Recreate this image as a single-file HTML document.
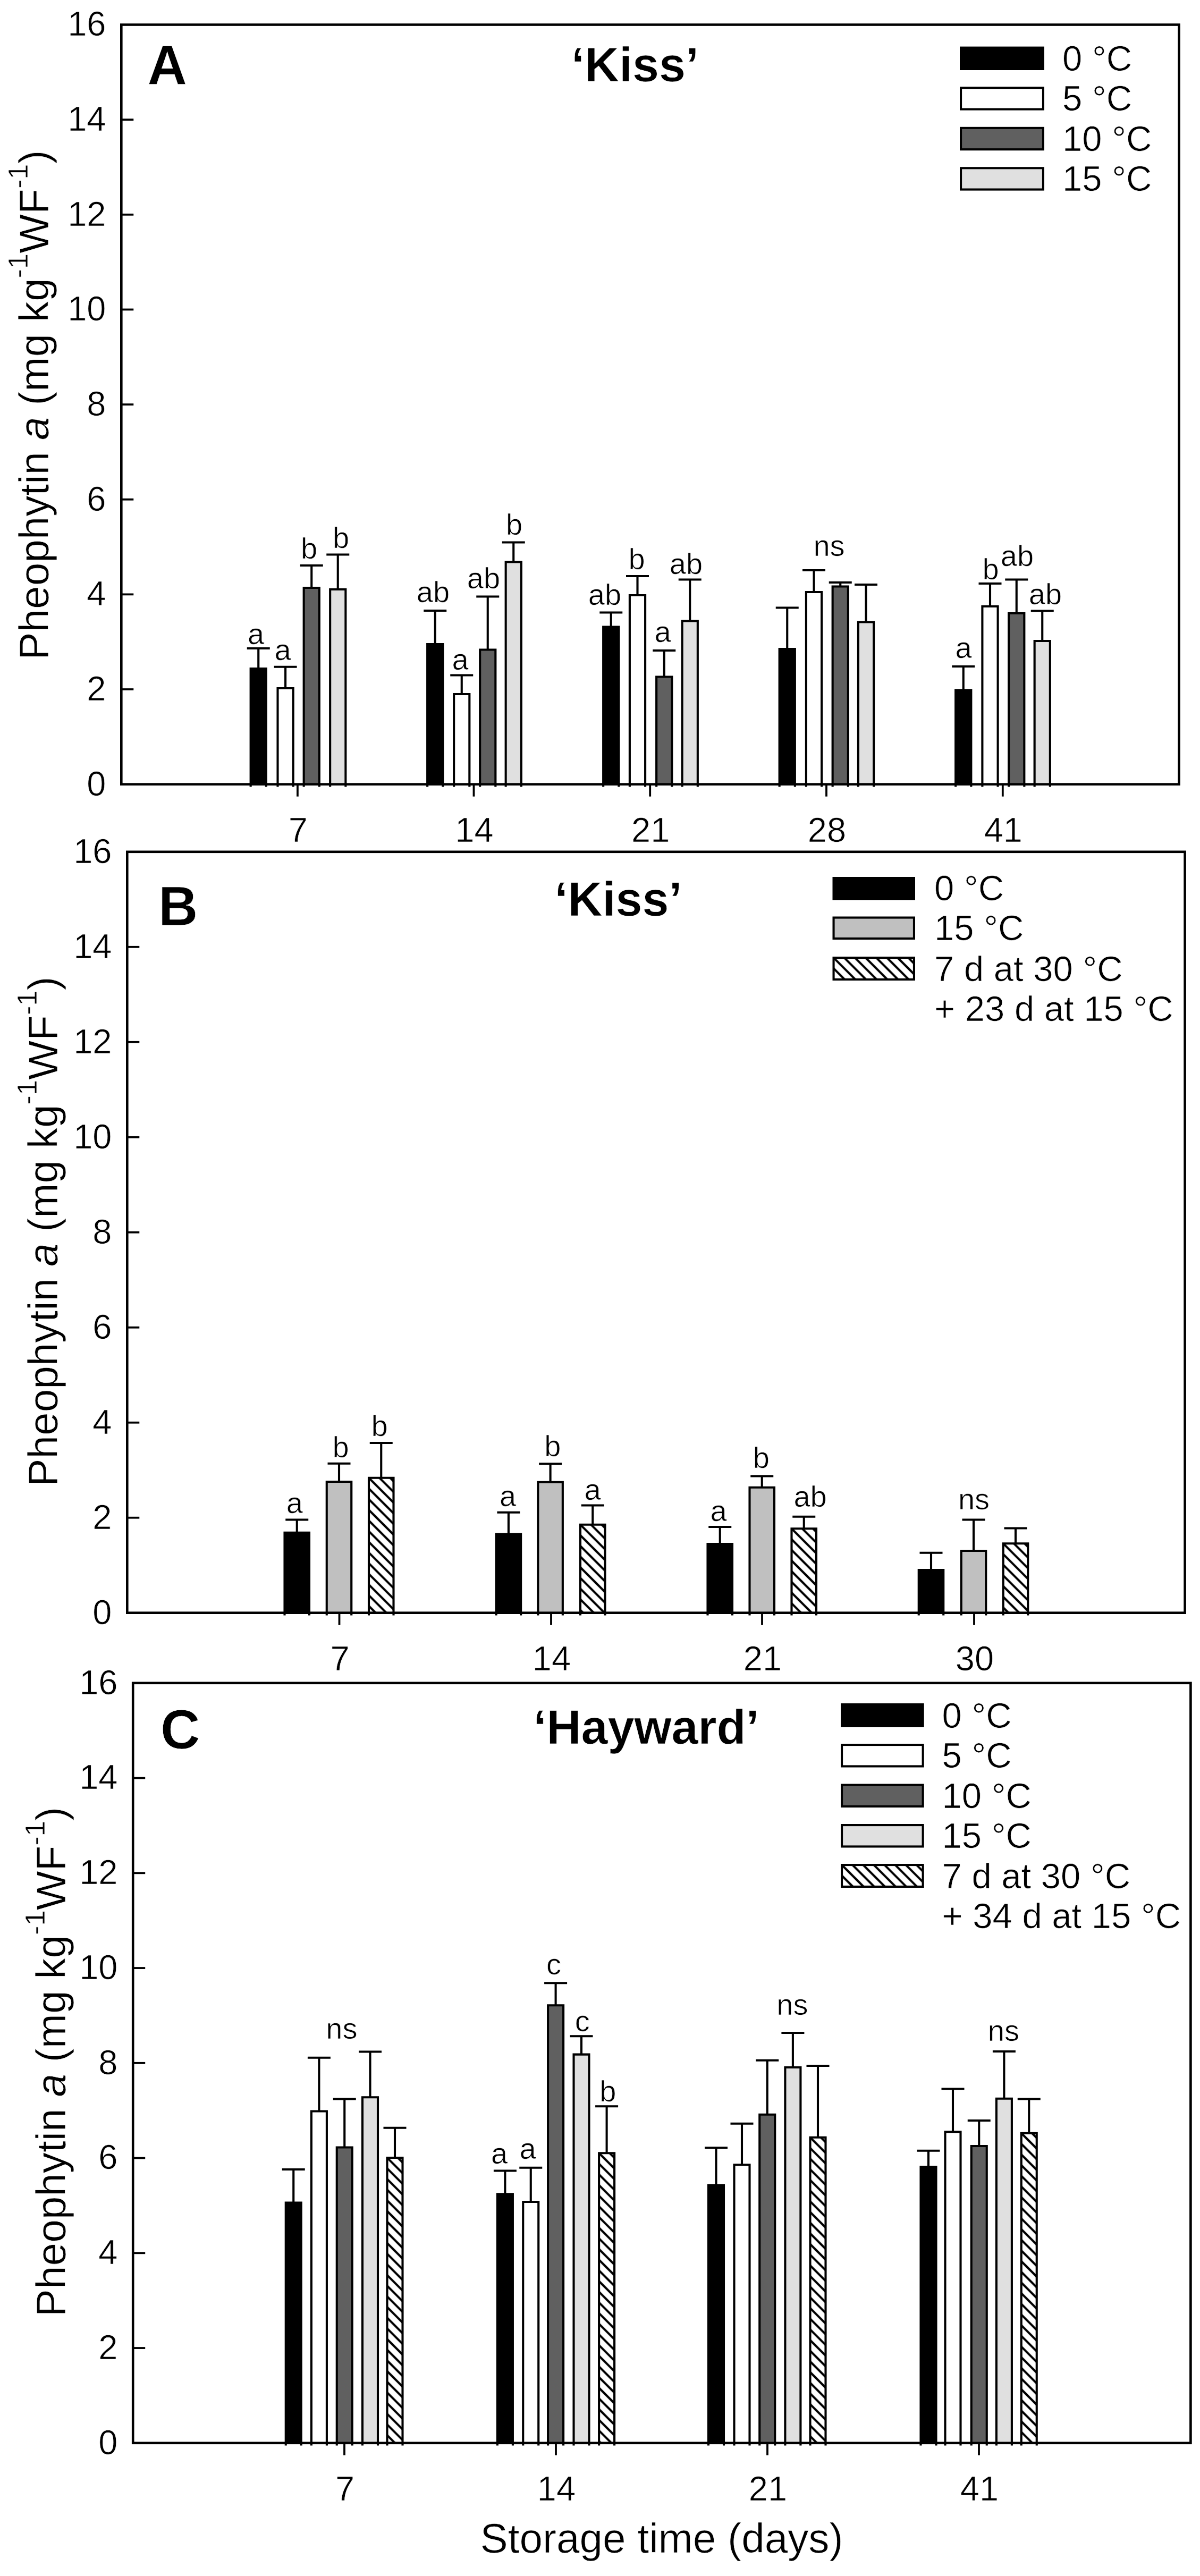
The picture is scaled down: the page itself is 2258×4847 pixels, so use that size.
<!DOCTYPE html>
<html lang="en"><head><meta charset="utf-8"><title>Pheophytin a during storage</title>
<style>html,body{margin:0;padding:0;background:#fff}svg{display:block}text{font-family:'Liberation Sans', sans-serif;fill:#000;stroke:#fff;stroke-width:0.7px}</style></head><body>
<svg width="2258" height="4847" viewBox="0 0 2258 4847" role="img" aria-label="Pheophytin a content of kiwifruit during storage">
<defs><pattern id="hatch" patternUnits="userSpaceOnUse" width="14.2" height="14.2" patternTransform="rotate(-45)"><rect x="-2.05" y="0" width="4.1" height="14.2" fill="#000"/><rect x="12.15" y="0" width="4.1" height="14.2" fill="#000"/></pattern></defs>
<rect x="0" y="0" width="2258" height="4847" fill="#fff"/>
<line x1="486.25" y1="1258.1" x2="486.25" y2="1220" stroke="#000" stroke-width="4.1"/>
<line x1="464.75" y1="1220" x2="507.75" y2="1220" stroke="#000" stroke-width="4.1"/>
<rect x="471.65" y="1258.1" width="29.2" height="217.6" fill="#000000"/>
<path d="M471.65,1480.5V1258.1H500.85V1480.5" fill="none" stroke="#000" stroke-width="4.1"/>
<line x1="537.1" y1="1295" x2="537.1" y2="1254.75" stroke="#000" stroke-width="4.1"/>
<line x1="515.6" y1="1254.75" x2="558.6" y2="1254.75" stroke="#000" stroke-width="4.1"/>
<rect x="522.5" y="1295" width="29.2" height="180.7" fill="#ffffff"/>
<path d="M522.5,1480.5V1295H551.7V1480.5" fill="none" stroke="#000" stroke-width="4.1"/>
<line x1="586.25" y1="1106" x2="586.25" y2="1064" stroke="#000" stroke-width="4.1"/>
<line x1="564.75" y1="1064" x2="607.75" y2="1064" stroke="#000" stroke-width="4.1"/>
<rect x="571.65" y="1106" width="29.2" height="369.7" fill="#606060"/>
<path d="M571.65,1480.5V1106H600.85V1480.5" fill="none" stroke="#000" stroke-width="4.1"/>
<line x1="635.75" y1="1109" x2="635.75" y2="1043.5" stroke="#000" stroke-width="4.1"/>
<line x1="614.25" y1="1043.5" x2="657.25" y2="1043.5" stroke="#000" stroke-width="4.1"/>
<rect x="621.15" y="1109" width="29.2" height="366.7" fill="#e0e0e0"/>
<path d="M621.15,1480.5V1109H650.35V1480.5" fill="none" stroke="#000" stroke-width="4.1"/>
<line x1="818.75" y1="1212.1" x2="818.75" y2="1149" stroke="#000" stroke-width="4.1"/>
<line x1="797.25" y1="1149" x2="840.25" y2="1149" stroke="#000" stroke-width="4.1"/>
<rect x="804.15" y="1212.1" width="29.2" height="263.6" fill="#000000"/>
<path d="M804.15,1480.5V1212.1H833.35V1480.5" fill="none" stroke="#000" stroke-width="4.1"/>
<line x1="868.75" y1="1306" x2="868.75" y2="1270.5" stroke="#000" stroke-width="4.1"/>
<line x1="847.25" y1="1270.5" x2="890.25" y2="1270.5" stroke="#000" stroke-width="4.1"/>
<rect x="854.15" y="1306" width="29.2" height="169.7" fill="#ffffff"/>
<path d="M854.15,1480.5V1306H883.35V1480.5" fill="none" stroke="#000" stroke-width="4.1"/>
<line x1="917.75" y1="1222.5" x2="917.75" y2="1122.5" stroke="#000" stroke-width="4.1"/>
<line x1="896.25" y1="1122.5" x2="939.25" y2="1122.5" stroke="#000" stroke-width="4.1"/>
<rect x="903.15" y="1222.5" width="29.2" height="253.2" fill="#606060"/>
<path d="M903.15,1480.5V1222.5H932.35V1480.5" fill="none" stroke="#000" stroke-width="4.1"/>
<line x1="966.25" y1="1057.5" x2="966.25" y2="1020.5" stroke="#000" stroke-width="4.1"/>
<line x1="944.75" y1="1020.5" x2="987.75" y2="1020.5" stroke="#000" stroke-width="4.1"/>
<rect x="951.65" y="1057.5" width="29.2" height="418.2" fill="#e0e0e0"/>
<path d="M951.65,1480.5V1057.5H980.85V1480.5" fill="none" stroke="#000" stroke-width="4.1"/>
<line x1="1149.75" y1="1179.6" x2="1149.75" y2="1152.5" stroke="#000" stroke-width="4.1"/>
<line x1="1128.25" y1="1152.5" x2="1171.25" y2="1152.5" stroke="#000" stroke-width="4.1"/>
<rect x="1135.15" y="1179.6" width="29.2" height="296.1" fill="#000000"/>
<path d="M1135.15,1480.5V1179.6H1164.35V1480.5" fill="none" stroke="#000" stroke-width="4.1"/>
<line x1="1199.5" y1="1120" x2="1199.5" y2="1084" stroke="#000" stroke-width="4.1"/>
<line x1="1178" y1="1084" x2="1221" y2="1084" stroke="#000" stroke-width="4.1"/>
<rect x="1184.9" y="1120" width="29.2" height="355.7" fill="#ffffff"/>
<path d="M1184.9,1480.5V1120H1214.1V1480.5" fill="none" stroke="#000" stroke-width="4.1"/>
<line x1="1249.75" y1="1273.5" x2="1249.75" y2="1224" stroke="#000" stroke-width="4.1"/>
<line x1="1228.25" y1="1224" x2="1271.25" y2="1224" stroke="#000" stroke-width="4.1"/>
<rect x="1235.15" y="1273.5" width="29.2" height="202.2" fill="#606060"/>
<path d="M1235.15,1480.5V1273.5H1264.35V1480.5" fill="none" stroke="#000" stroke-width="4.1"/>
<line x1="1298.25" y1="1168.5" x2="1298.25" y2="1090.5" stroke="#000" stroke-width="4.1"/>
<line x1="1276.75" y1="1090.5" x2="1319.75" y2="1090.5" stroke="#000" stroke-width="4.1"/>
<rect x="1283.65" y="1168.5" width="29.2" height="307.2" fill="#e0e0e0"/>
<path d="M1283.65,1480.5V1168.5H1312.85V1480.5" fill="none" stroke="#000" stroke-width="4.1"/>
<line x1="1481.25" y1="1221.1" x2="1481.25" y2="1143.5" stroke="#000" stroke-width="4.1"/>
<line x1="1459.75" y1="1143.5" x2="1502.75" y2="1143.5" stroke="#000" stroke-width="4.1"/>
<rect x="1466.65" y="1221.1" width="29.2" height="254.6" fill="#000000"/>
<path d="M1466.65,1480.5V1221.1H1495.85V1480.5" fill="none" stroke="#000" stroke-width="4.1"/>
<line x1="1531.5" y1="1114" x2="1531.5" y2="1073" stroke="#000" stroke-width="4.1"/>
<line x1="1510" y1="1073" x2="1553" y2="1073" stroke="#000" stroke-width="4.1"/>
<rect x="1516.9" y="1114" width="29.2" height="361.7" fill="#ffffff"/>
<path d="M1516.9,1480.5V1114H1546.1V1480.5" fill="none" stroke="#000" stroke-width="4.1"/>
<line x1="1581.25" y1="1103.5" x2="1581.25" y2="1096" stroke="#000" stroke-width="4.1"/>
<line x1="1559.75" y1="1096" x2="1602.75" y2="1096" stroke="#000" stroke-width="4.1"/>
<rect x="1566.65" y="1103.5" width="29.2" height="372.2" fill="#606060"/>
<path d="M1566.65,1480.5V1103.5H1595.85V1480.5" fill="none" stroke="#000" stroke-width="4.1"/>
<line x1="1629.5" y1="1170.5" x2="1629.5" y2="1100" stroke="#000" stroke-width="4.1"/>
<line x1="1608" y1="1100" x2="1651" y2="1100" stroke="#000" stroke-width="4.1"/>
<rect x="1614.9" y="1170.5" width="29.2" height="305.2" fill="#e0e0e0"/>
<path d="M1614.9,1480.5V1170.5H1644.1V1480.5" fill="none" stroke="#000" stroke-width="4.1"/>
<line x1="1812.75" y1="1298.6" x2="1812.75" y2="1254" stroke="#000" stroke-width="4.1"/>
<line x1="1791.25" y1="1254" x2="1834.25" y2="1254" stroke="#000" stroke-width="4.1"/>
<rect x="1798.15" y="1298.6" width="29.2" height="177.1" fill="#000000"/>
<path d="M1798.15,1480.5V1298.6H1827.35V1480.5" fill="none" stroke="#000" stroke-width="4.1"/>
<line x1="1863" y1="1141" x2="1863" y2="1098" stroke="#000" stroke-width="4.1"/>
<line x1="1841.5" y1="1098" x2="1884.5" y2="1098" stroke="#000" stroke-width="4.1"/>
<rect x="1848.4" y="1141" width="29.2" height="334.7" fill="#ffffff"/>
<path d="M1848.4,1480.5V1141H1877.6V1480.5" fill="none" stroke="#000" stroke-width="4.1"/>
<line x1="1912.75" y1="1154" x2="1912.75" y2="1090.5" stroke="#000" stroke-width="4.1"/>
<line x1="1891.25" y1="1090.5" x2="1934.25" y2="1090.5" stroke="#000" stroke-width="4.1"/>
<rect x="1898.15" y="1154" width="29.2" height="321.7" fill="#606060"/>
<path d="M1898.15,1480.5V1154H1927.35V1480.5" fill="none" stroke="#000" stroke-width="4.1"/>
<line x1="1961.25" y1="1206" x2="1961.25" y2="1149.5" stroke="#000" stroke-width="4.1"/>
<line x1="1939.75" y1="1149.5" x2="1982.75" y2="1149.5" stroke="#000" stroke-width="4.1"/>
<rect x="1946.65" y="1206" width="29.2" height="269.7" fill="#e0e0e0"/>
<path d="M1946.65,1480.5V1206H1975.85V1480.5" fill="none" stroke="#000" stroke-width="4.1"/>
<rect x="228.3" y="46.5" width="1990.3" height="1429.2" fill="none" stroke="#000" stroke-width="4.6"/>
<text x="199.5" y="1496.6" font-size="65" text-anchor="end">0</text>
<line x1="228.3" y1="1297.05" x2="251.3" y2="1297.05" stroke="#000" stroke-width="3.8"/>
<text x="199.5" y="1317.95" font-size="65" text-anchor="end">2</text>
<line x1="228.3" y1="1118.4" x2="251.3" y2="1118.4" stroke="#000" stroke-width="3.8"/>
<text x="199.5" y="1139.3" font-size="65" text-anchor="end">4</text>
<line x1="228.3" y1="939.75" x2="251.3" y2="939.75" stroke="#000" stroke-width="3.8"/>
<text x="199.5" y="960.65" font-size="65" text-anchor="end">6</text>
<line x1="228.3" y1="761.1" x2="251.3" y2="761.1" stroke="#000" stroke-width="3.8"/>
<text x="199.5" y="782" font-size="65" text-anchor="end">8</text>
<line x1="228.3" y1="582.45" x2="251.3" y2="582.45" stroke="#000" stroke-width="3.8"/>
<text x="199.5" y="603.35" font-size="65" text-anchor="end">10</text>
<line x1="228.3" y1="403.8" x2="251.3" y2="403.8" stroke="#000" stroke-width="3.8"/>
<text x="199.5" y="424.7" font-size="65" text-anchor="end">12</text>
<line x1="228.3" y1="225.15" x2="251.3" y2="225.15" stroke="#000" stroke-width="3.8"/>
<text x="199.5" y="246.05" font-size="65" text-anchor="end">14</text>
<text x="199.5" y="67.4" font-size="65" text-anchor="end">16</text>
<line x1="559.9" y1="1475.7" x2="559.9" y2="1498.7" stroke="#000" stroke-width="3.8"/>
<text x="560.9" y="1583.7" font-size="65" text-anchor="middle">7</text>
<line x1="891.5" y1="1475.7" x2="891.5" y2="1498.7" stroke="#000" stroke-width="3.8"/>
<text x="892.5" y="1583.7" font-size="65" text-anchor="middle">14</text>
<line x1="1223.2" y1="1475.7" x2="1223.2" y2="1498.7" stroke="#000" stroke-width="3.8"/>
<text x="1224.2" y="1583.7" font-size="65" text-anchor="middle">21</text>
<line x1="1555" y1="1475.7" x2="1555" y2="1498.7" stroke="#000" stroke-width="3.8"/>
<text x="1556" y="1583.7" font-size="65" text-anchor="middle">28</text>
<line x1="1886.8" y1="1475.7" x2="1886.8" y2="1498.7" stroke="#000" stroke-width="3.8"/>
<text x="1887.8" y="1583.7" font-size="65" text-anchor="middle">41</text>
<text transform="translate(90.8,762) rotate(-90)" font-size="78.3" text-anchor="middle">Pheophytin <tspan font-style="italic">a</tspan> (mg kg<tspan font-size="52.5" dy="-39">-1</tspan><tspan dy="39">WF</tspan><tspan font-size="52.5" dy="-39">-1</tspan><tspan dy="39">)</tspan></text>
<text x="481.5" y="1211.8" font-size="56" text-anchor="middle">a</text>
<text x="532" y="1242.3" font-size="56" text-anchor="middle">a</text>
<text x="581.5" y="1050.8" font-size="56" text-anchor="middle">b</text>
<text x="641.5" y="1030.8" font-size="56" text-anchor="middle">b</text>
<text x="815" y="1133.3" font-size="56" text-anchor="middle">ab</text>
<text x="866" y="1259.8" font-size="56" text-anchor="middle">a</text>
<text x="910" y="1106.8" font-size="56" text-anchor="middle">ab</text>
<text x="967.5" y="1005.8" font-size="56" text-anchor="middle">b</text>
<text x="1138" y="1138.3" font-size="56" text-anchor="middle">ab</text>
<text x="1198" y="1070.8" font-size="56" text-anchor="middle">b</text>
<text x="1247" y="1208.3" font-size="56" text-anchor="middle">a</text>
<text x="1291" y="1079.8" font-size="56" text-anchor="middle">ab</text>
<text x="1560" y="1045.8" font-size="56" text-anchor="middle">ns</text>
<text x="1813" y="1238.3" font-size="56" text-anchor="middle">a</text>
<text x="1864" y="1089.8" font-size="56" text-anchor="middle">b</text>
<text x="1914" y="1064.8" font-size="56" text-anchor="middle">ab</text>
<text x="1967" y="1136.8" font-size="56" text-anchor="middle">ab</text>
<text x="277.5" y="158" font-size="103" text-anchor="start" font-weight="bold" stroke="none">A</text>
<text x="1195" y="152.5" font-size="90" text-anchor="middle" font-weight="bold" stroke="none">&#8216;Kiss&#8217;</text>
<rect x="1808.05" y="89.65" width="154.9" height="40.3" fill="#000000" stroke="#000" stroke-width="4.1"/>
<text x="1999" y="132.5" font-size="67" text-anchor="start">0 &#176;C</text>
<rect x="1808.05" y="165.25" width="154.9" height="40.3" fill="#ffffff" stroke="#000" stroke-width="4.1"/>
<text x="1999" y="208.1" font-size="67" text-anchor="start">5 &#176;C</text>
<rect x="1808.05" y="240.85" width="154.9" height="40.3" fill="#606060" stroke="#000" stroke-width="4.1"/>
<text x="1999" y="283.7" font-size="67" text-anchor="start">10 &#176;C</text>
<rect x="1808.05" y="316.25" width="154.9" height="40.3" fill="#e0e0e0" stroke="#000" stroke-width="4.1"/>
<text x="1999" y="359.1" font-size="67" text-anchor="start">15 &#176;C</text>
<line x1="558.75" y1="2883.85" x2="558.75" y2="2859.5" stroke="#000" stroke-width="4.1"/>
<line x1="537.25" y1="2859.5" x2="580.25" y2="2859.5" stroke="#000" stroke-width="4.1"/>
<rect x="535.5" y="2883.85" width="46.5" height="150.85" fill="#000000"/>
<path d="M535.5,3039.5V2883.85H582V3039.5" fill="none" stroke="#000" stroke-width="4.1"/>
<line x1="638" y1="2788" x2="638" y2="2753.75" stroke="#000" stroke-width="4.1"/>
<line x1="616.5" y1="2753.75" x2="659.5" y2="2753.75" stroke="#000" stroke-width="4.1"/>
<rect x="614.75" y="2788" width="46.5" height="246.7" fill="#c0c0c0"/>
<path d="M614.75,3039.5V2788H661.25V3039.5" fill="none" stroke="#000" stroke-width="4.1"/>
<line x1="717.25" y1="2780.8" x2="717.25" y2="2715" stroke="#000" stroke-width="4.1"/>
<line x1="695.75" y1="2715" x2="738.75" y2="2715" stroke="#000" stroke-width="4.1"/>
<g transform="translate(694,2780.8)"><rect x="0" y="0" width="46.5" height="253.9" fill="#fff"/><rect x="0" y="0" width="46.5" height="253.9" fill="url(#hatch)"/></g>
<path d="M694,3039.5V2780.8H740.5V3039.5" fill="none" stroke="#000" stroke-width="4.1"/>
<line x1="956.9" y1="2886.6" x2="956.9" y2="2845.75" stroke="#000" stroke-width="4.1"/>
<line x1="935.4" y1="2845.75" x2="978.4" y2="2845.75" stroke="#000" stroke-width="4.1"/>
<rect x="933.65" y="2886.6" width="46.5" height="148.1" fill="#000000"/>
<path d="M933.65,3039.5V2886.6H980.15V3039.5" fill="none" stroke="#000" stroke-width="4.1"/>
<line x1="1035.6" y1="2788.75" x2="1035.6" y2="2754.25" stroke="#000" stroke-width="4.1"/>
<line x1="1014.1" y1="2754.25" x2="1057.1" y2="2754.25" stroke="#000" stroke-width="4.1"/>
<rect x="1012.35" y="2788.75" width="46.5" height="245.95" fill="#c0c0c0"/>
<path d="M1012.35,3039.5V2788.75H1058.85V3039.5" fill="none" stroke="#000" stroke-width="4.1"/>
<line x1="1115.25" y1="2868.75" x2="1115.25" y2="2832.5" stroke="#000" stroke-width="4.1"/>
<line x1="1093.75" y1="2832.5" x2="1136.75" y2="2832.5" stroke="#000" stroke-width="4.1"/>
<g transform="translate(1092,2868.75)"><rect x="0" y="0" width="46.5" height="165.95" fill="#fff"/><rect x="0" y="0" width="46.5" height="165.95" fill="url(#hatch)"/></g>
<path d="M1092,3039.5V2868.75H1138.5V3039.5" fill="none" stroke="#000" stroke-width="4.1"/>
<line x1="1354.75" y1="2905.1" x2="1354.75" y2="2873" stroke="#000" stroke-width="4.1"/>
<line x1="1333.25" y1="2873" x2="1376.25" y2="2873" stroke="#000" stroke-width="4.1"/>
<rect x="1331.5" y="2905.1" width="46.5" height="129.6" fill="#000000"/>
<path d="M1331.5,3039.5V2905.1H1378V3039.5" fill="none" stroke="#000" stroke-width="4.1"/>
<line x1="1433.75" y1="2798.75" x2="1433.75" y2="2777.5" stroke="#000" stroke-width="4.1"/>
<line x1="1412.25" y1="2777.5" x2="1455.25" y2="2777.5" stroke="#000" stroke-width="4.1"/>
<rect x="1410.5" y="2798.75" width="46.5" height="235.95" fill="#c0c0c0"/>
<path d="M1410.5,3039.5V2798.75H1457V3039.5" fill="none" stroke="#000" stroke-width="4.1"/>
<line x1="1512.75" y1="2876.25" x2="1512.75" y2="2853.75" stroke="#000" stroke-width="4.1"/>
<line x1="1491.25" y1="2853.75" x2="1534.25" y2="2853.75" stroke="#000" stroke-width="4.1"/>
<g transform="translate(1489.5,2876.25)"><rect x="0" y="0" width="46.5" height="158.45" fill="#fff"/><rect x="0" y="0" width="46.5" height="158.45" fill="url(#hatch)"/></g>
<path d="M1489.5,3039.5V2876.25H1536V3039.5" fill="none" stroke="#000" stroke-width="4.1"/>
<line x1="1752" y1="2954.1" x2="1752" y2="2921.75" stroke="#000" stroke-width="4.1"/>
<line x1="1730.5" y1="2921.75" x2="1773.5" y2="2921.75" stroke="#000" stroke-width="4.1"/>
<rect x="1728.75" y="2954.1" width="46.5" height="80.6" fill="#000000"/>
<path d="M1728.75,3039.5V2954.1H1775.25V3039.5" fill="none" stroke="#000" stroke-width="4.1"/>
<line x1="1832" y1="2918" x2="1832" y2="2859.5" stroke="#000" stroke-width="4.1"/>
<line x1="1810.5" y1="2859.5" x2="1853.5" y2="2859.5" stroke="#000" stroke-width="4.1"/>
<rect x="1808.75" y="2918" width="46.5" height="116.7" fill="#c0c0c0"/>
<path d="M1808.75,3039.5V2918H1855.25V3039.5" fill="none" stroke="#000" stroke-width="4.1"/>
<line x1="1911" y1="2904.25" x2="1911" y2="2875.5" stroke="#000" stroke-width="4.1"/>
<line x1="1889.5" y1="2875.5" x2="1932.5" y2="2875.5" stroke="#000" stroke-width="4.1"/>
<g transform="translate(1887.75,2904.25)"><rect x="0" y="0" width="46.5" height="130.45" fill="#fff"/><rect x="0" y="0" width="46.5" height="130.45" fill="url(#hatch)"/></g>
<path d="M1887.75,3039.5V2904.25H1934.25V3039.5" fill="none" stroke="#000" stroke-width="4.1"/>
<rect x="239.3" y="1602.8" width="1990.3" height="1431.9" fill="none" stroke="#000" stroke-width="4.6"/>
<text x="210.5" y="3055.6" font-size="65" text-anchor="end">0</text>
<line x1="239.3" y1="2855.71" x2="262.3" y2="2855.71" stroke="#000" stroke-width="3.8"/>
<text x="210.5" y="2876.61" font-size="65" text-anchor="end">2</text>
<line x1="239.3" y1="2676.72" x2="262.3" y2="2676.72" stroke="#000" stroke-width="3.8"/>
<text x="210.5" y="2697.62" font-size="65" text-anchor="end">4</text>
<line x1="239.3" y1="2497.74" x2="262.3" y2="2497.74" stroke="#000" stroke-width="3.8"/>
<text x="210.5" y="2518.64" font-size="65" text-anchor="end">6</text>
<line x1="239.3" y1="2318.75" x2="262.3" y2="2318.75" stroke="#000" stroke-width="3.8"/>
<text x="210.5" y="2339.65" font-size="65" text-anchor="end">8</text>
<line x1="239.3" y1="2139.76" x2="262.3" y2="2139.76" stroke="#000" stroke-width="3.8"/>
<text x="210.5" y="2160.66" font-size="65" text-anchor="end">10</text>
<line x1="239.3" y1="1960.77" x2="262.3" y2="1960.77" stroke="#000" stroke-width="3.8"/>
<text x="210.5" y="1981.67" font-size="65" text-anchor="end">12</text>
<line x1="239.3" y1="1781.79" x2="262.3" y2="1781.79" stroke="#000" stroke-width="3.8"/>
<text x="210.5" y="1802.69" font-size="65" text-anchor="end">14</text>
<text x="210.5" y="1623.7" font-size="65" text-anchor="end">16</text>
<line x1="638.5" y1="3034.7" x2="638.5" y2="3057.7" stroke="#000" stroke-width="3.8"/>
<text x="639.5" y="3142.7" font-size="65" text-anchor="middle">7</text>
<line x1="1037" y1="3034.7" x2="1037" y2="3057.7" stroke="#000" stroke-width="3.8"/>
<text x="1038" y="3142.7" font-size="65" text-anchor="middle">14</text>
<line x1="1434" y1="3034.7" x2="1434" y2="3057.7" stroke="#000" stroke-width="3.8"/>
<text x="1435" y="3142.7" font-size="65" text-anchor="middle">21</text>
<line x1="1833" y1="3034.7" x2="1833" y2="3057.7" stroke="#000" stroke-width="3.8"/>
<text x="1834" y="3142.7" font-size="65" text-anchor="middle">30</text>
<text transform="translate(107.5,2317) rotate(-90)" font-size="78.3" text-anchor="middle">Pheophytin <tspan font-style="italic">a</tspan> (mg kg<tspan font-size="52.5" dy="-39">-1</tspan><tspan dy="39">WF</tspan><tspan font-size="52.5" dy="-39">-1</tspan><tspan dy="39">)</tspan></text>
<text x="554.4" y="2847.05" font-size="56" text-anchor="middle">a</text>
<text x="641" y="2742.05" font-size="56" text-anchor="middle">b</text>
<text x="714" y="2702.05" font-size="56" text-anchor="middle">b</text>
<text x="955.6" y="2833.8" font-size="56" text-anchor="middle">a</text>
<text x="1039.75" y="2739.55" font-size="56" text-anchor="middle">b</text>
<text x="1115" y="2822.05" font-size="56" text-anchor="middle">a</text>
<text x="1352" y="2862.05" font-size="56" text-anchor="middle">a</text>
<text x="1432.25" y="2762.05" font-size="56" text-anchor="middle">b</text>
<text x="1524.6" y="2834.55" font-size="56" text-anchor="middle">ab</text>
<text x="1832.5" y="2839.55" font-size="56" text-anchor="middle">ns</text>
<text x="298" y="1741" font-size="103" text-anchor="start" font-weight="bold" stroke="none">B</text>
<text x="1163.5" y="1723" font-size="90" text-anchor="middle" font-weight="bold" stroke="none">&#8216;Kiss&#8217;</text>
<rect x="1568.55" y="1652.05" width="151.4" height="39.4" fill="#000000" stroke="#000" stroke-width="4.1"/>
<text x="1758" y="1694" font-size="67" text-anchor="start">0 &#176;C</text>
<rect x="1568.55" y="1726.55" width="151.4" height="39.4" fill="#c0c0c0" stroke="#000" stroke-width="4.1"/>
<text x="1758" y="1768.5" font-size="67" text-anchor="start">15 &#176;C</text>
<g transform="translate(1568.55,1802.05)"><rect x="0" y="0" width="151.4" height="40.9" fill="#fff"/><rect x="0" y="0" width="151.4" height="40.9" fill="url(#hatch)" stroke="#000" stroke-width="4.1"/></g>
<text x="1758" y="1845.5" font-size="67" text-anchor="start">7 d at 30 &#176;C</text>
<text x="1758" y="1920.5" font-size="67" text-anchor="start">+ 23 d at 15 &#176;C</text>
<line x1="552.25" y1="4144.6" x2="552.25" y2="4082" stroke="#000" stroke-width="4.1"/>
<line x1="530.75" y1="4082" x2="573.75" y2="4082" stroke="#000" stroke-width="4.1"/>
<rect x="537.75" y="4144.6" width="29" height="452.2" fill="#000000"/>
<path d="M537.75,4601.6V4144.6H566.75V4601.6" fill="none" stroke="#000" stroke-width="4.1"/>
<line x1="600.4" y1="3972.5" x2="600.4" y2="3871.75" stroke="#000" stroke-width="4.1"/>
<line x1="578.9" y1="3871.75" x2="621.9" y2="3871.75" stroke="#000" stroke-width="4.1"/>
<rect x="585.9" y="3972.5" width="29" height="624.3" fill="#ffffff"/>
<path d="M585.9,4601.6V3972.5H614.9V4601.6" fill="none" stroke="#000" stroke-width="4.1"/>
<line x1="648.25" y1="4040.5" x2="648.25" y2="3949.5" stroke="#000" stroke-width="4.1"/>
<line x1="626.75" y1="3949.5" x2="669.75" y2="3949.5" stroke="#000" stroke-width="4.1"/>
<rect x="633.75" y="4040.5" width="29" height="556.3" fill="#606060"/>
<path d="M633.75,4601.6V4040.5H662.75V4601.6" fill="none" stroke="#000" stroke-width="4.1"/>
<line x1="696.5" y1="3946.25" x2="696.5" y2="3860.5" stroke="#000" stroke-width="4.1"/>
<line x1="675" y1="3860.5" x2="718" y2="3860.5" stroke="#000" stroke-width="4.1"/>
<rect x="682" y="3946.25" width="29" height="650.55" fill="#e0e0e0"/>
<path d="M682,4601.6V3946.25H711V4601.6" fill="none" stroke="#000" stroke-width="4.1"/>
<line x1="743" y1="4060" x2="743" y2="4003.75" stroke="#000" stroke-width="4.1"/>
<line x1="721.5" y1="4003.75" x2="764.5" y2="4003.75" stroke="#000" stroke-width="4.1"/>
<g transform="translate(728.5,4060)"><rect x="0" y="0" width="29" height="536.8" fill="#fff"/><rect x="0" y="0" width="29" height="536.8" fill="url(#hatch)"/></g>
<path d="M728.5,4601.6V4060H757.5V4601.6" fill="none" stroke="#000" stroke-width="4.1"/>
<line x1="950.4" y1="4128.35" x2="950.4" y2="4084.5" stroke="#000" stroke-width="4.1"/>
<line x1="928.9" y1="4084.5" x2="971.9" y2="4084.5" stroke="#000" stroke-width="4.1"/>
<rect x="935.9" y="4128.35" width="29" height="468.45" fill="#000000"/>
<path d="M935.9,4601.6V4128.35H964.9V4601.6" fill="none" stroke="#000" stroke-width="4.1"/>
<line x1="998.75" y1="4143" x2="998.75" y2="4078.75" stroke="#000" stroke-width="4.1"/>
<line x1="977.25" y1="4078.75" x2="1020.25" y2="4078.75" stroke="#000" stroke-width="4.1"/>
<rect x="984.25" y="4143" width="29" height="453.8" fill="#ffffff"/>
<path d="M984.25,4601.6V4143H1013.25V4601.6" fill="none" stroke="#000" stroke-width="4.1"/>
<line x1="1045.6" y1="3773.25" x2="1045.6" y2="3731.25" stroke="#000" stroke-width="4.1"/>
<line x1="1024.1" y1="3731.25" x2="1067.1" y2="3731.25" stroke="#000" stroke-width="4.1"/>
<rect x="1031.1" y="3773.25" width="29" height="823.55" fill="#606060"/>
<path d="M1031.1,4601.6V3773.25H1060.1V4601.6" fill="none" stroke="#000" stroke-width="4.1"/>
<line x1="1094" y1="3865.6" x2="1094" y2="3831.25" stroke="#000" stroke-width="4.1"/>
<line x1="1072.5" y1="3831.25" x2="1115.5" y2="3831.25" stroke="#000" stroke-width="4.1"/>
<rect x="1079.5" y="3865.6" width="29" height="731.2" fill="#e0e0e0"/>
<path d="M1079.5,4601.6V3865.6H1108.5V4601.6" fill="none" stroke="#000" stroke-width="4.1"/>
<line x1="1141.6" y1="4051.25" x2="1141.6" y2="3963.25" stroke="#000" stroke-width="4.1"/>
<line x1="1120.1" y1="3963.25" x2="1163.1" y2="3963.25" stroke="#000" stroke-width="4.1"/>
<g transform="translate(1127.1,4051.25)"><rect x="0" y="0" width="29" height="545.55" fill="#fff"/><rect x="0" y="0" width="29" height="545.55" fill="url(#hatch)"/></g>
<path d="M1127.1,4601.6V4051.25H1156.1V4601.6" fill="none" stroke="#000" stroke-width="4.1"/>
<line x1="1347.5" y1="4111.6" x2="1347.5" y2="4041.25" stroke="#000" stroke-width="4.1"/>
<line x1="1326" y1="4041.25" x2="1369" y2="4041.25" stroke="#000" stroke-width="4.1"/>
<rect x="1333" y="4111.6" width="29" height="485.2" fill="#000000"/>
<path d="M1333,4601.6V4111.6H1362V4601.6" fill="none" stroke="#000" stroke-width="4.1"/>
<line x1="1396" y1="4073.25" x2="1396" y2="3995.75" stroke="#000" stroke-width="4.1"/>
<line x1="1374.5" y1="3995.75" x2="1417.5" y2="3995.75" stroke="#000" stroke-width="4.1"/>
<rect x="1381.5" y="4073.25" width="29" height="523.55" fill="#ffffff"/>
<path d="M1381.5,4601.6V4073.25H1410.5V4601.6" fill="none" stroke="#000" stroke-width="4.1"/>
<line x1="1443.75" y1="3978.75" x2="1443.75" y2="3876.75" stroke="#000" stroke-width="4.1"/>
<line x1="1422.25" y1="3876.75" x2="1465.25" y2="3876.75" stroke="#000" stroke-width="4.1"/>
<rect x="1429.25" y="3978.75" width="29" height="618.05" fill="#606060"/>
<path d="M1429.25,4601.6V3978.75H1458.25V4601.6" fill="none" stroke="#000" stroke-width="4.1"/>
<line x1="1491.9" y1="3890" x2="1491.9" y2="3825" stroke="#000" stroke-width="4.1"/>
<line x1="1470.4" y1="3825" x2="1513.4" y2="3825" stroke="#000" stroke-width="4.1"/>
<rect x="1477.4" y="3890" width="29" height="706.8" fill="#e0e0e0"/>
<path d="M1477.4,4601.6V3890H1506.4V4601.6" fill="none" stroke="#000" stroke-width="4.1"/>
<line x1="1539" y1="4021.75" x2="1539" y2="3887" stroke="#000" stroke-width="4.1"/>
<line x1="1517.5" y1="3887" x2="1560.5" y2="3887" stroke="#000" stroke-width="4.1"/>
<g transform="translate(1524.5,4021.75)"><rect x="0" y="0" width="29" height="575.05" fill="#fff"/><rect x="0" y="0" width="29" height="575.05" fill="url(#hatch)"/></g>
<path d="M1524.5,4601.6V4021.75H1553.5V4601.6" fill="none" stroke="#000" stroke-width="4.1"/>
<line x1="1747" y1="4077.1" x2="1747" y2="4046.75" stroke="#000" stroke-width="4.1"/>
<line x1="1725.5" y1="4046.75" x2="1768.5" y2="4046.75" stroke="#000" stroke-width="4.1"/>
<rect x="1732.5" y="4077.1" width="29" height="519.7" fill="#000000"/>
<path d="M1732.5,4601.6V4077.1H1761.5V4601.6" fill="none" stroke="#000" stroke-width="4.1"/>
<line x1="1793" y1="4011.25" x2="1793" y2="3930.5" stroke="#000" stroke-width="4.1"/>
<line x1="1771.5" y1="3930.5" x2="1814.5" y2="3930.5" stroke="#000" stroke-width="4.1"/>
<rect x="1778.5" y="4011.25" width="29" height="585.55" fill="#ffffff"/>
<path d="M1778.5,4601.6V4011.25H1807.5V4601.6" fill="none" stroke="#000" stroke-width="4.1"/>
<line x1="1842.25" y1="4038" x2="1842.25" y2="3990" stroke="#000" stroke-width="4.1"/>
<line x1="1820.75" y1="3990" x2="1863.75" y2="3990" stroke="#000" stroke-width="4.1"/>
<rect x="1827.75" y="4038" width="29" height="558.8" fill="#606060"/>
<path d="M1827.75,4601.6V4038H1856.75V4601.6" fill="none" stroke="#000" stroke-width="4.1"/>
<line x1="1889.4" y1="3948.75" x2="1889.4" y2="3860" stroke="#000" stroke-width="4.1"/>
<line x1="1867.9" y1="3860" x2="1910.9" y2="3860" stroke="#000" stroke-width="4.1"/>
<rect x="1874.9" y="3948.75" width="29" height="648.05" fill="#e0e0e0"/>
<path d="M1874.9,4601.6V3948.75H1903.9V4601.6" fill="none" stroke="#000" stroke-width="4.1"/>
<line x1="1936.25" y1="4013.75" x2="1936.25" y2="3949.5" stroke="#000" stroke-width="4.1"/>
<line x1="1914.75" y1="3949.5" x2="1957.75" y2="3949.5" stroke="#000" stroke-width="4.1"/>
<g transform="translate(1921.75,4013.75)"><rect x="0" y="0" width="29" height="583.05" fill="#fff"/><rect x="0" y="0" width="29" height="583.05" fill="url(#hatch)"/></g>
<path d="M1921.75,4601.6V4013.75H1950.75V4601.6" fill="none" stroke="#000" stroke-width="4.1"/>
<rect x="250.2" y="3166.8" width="1990.2" height="1430" fill="none" stroke="#000" stroke-width="4.6"/>
<text x="221.5" y="4617.7" font-size="65" text-anchor="end">0</text>
<line x1="250.2" y1="4418.05" x2="273.2" y2="4418.05" stroke="#000" stroke-width="3.8"/>
<text x="221.5" y="4438.95" font-size="65" text-anchor="end">2</text>
<line x1="250.2" y1="4239.3" x2="273.2" y2="4239.3" stroke="#000" stroke-width="3.8"/>
<text x="221.5" y="4260.2" font-size="65" text-anchor="end">4</text>
<line x1="250.2" y1="4060.55" x2="273.2" y2="4060.55" stroke="#000" stroke-width="3.8"/>
<text x="221.5" y="4081.45" font-size="65" text-anchor="end">6</text>
<line x1="250.2" y1="3881.8" x2="273.2" y2="3881.8" stroke="#000" stroke-width="3.8"/>
<text x="221.5" y="3902.7" font-size="65" text-anchor="end">8</text>
<line x1="250.2" y1="3703.05" x2="273.2" y2="3703.05" stroke="#000" stroke-width="3.8"/>
<text x="221.5" y="3723.95" font-size="65" text-anchor="end">10</text>
<line x1="250.2" y1="3524.3" x2="273.2" y2="3524.3" stroke="#000" stroke-width="3.8"/>
<text x="221.5" y="3545.2" font-size="65" text-anchor="end">12</text>
<line x1="250.2" y1="3345.55" x2="273.2" y2="3345.55" stroke="#000" stroke-width="3.8"/>
<text x="221.5" y="3366.45" font-size="65" text-anchor="end">14</text>
<text x="221.5" y="3187.7" font-size="65" text-anchor="end">16</text>
<line x1="648" y1="4596.8" x2="648" y2="4619.8" stroke="#000" stroke-width="3.8"/>
<text x="649" y="4704.8" font-size="65" text-anchor="middle">7</text>
<line x1="1046" y1="4596.8" x2="1046" y2="4619.8" stroke="#000" stroke-width="3.8"/>
<text x="1047" y="4704.8" font-size="65" text-anchor="middle">14</text>
<line x1="1444" y1="4596.8" x2="1444" y2="4619.8" stroke="#000" stroke-width="3.8"/>
<text x="1445" y="4704.8" font-size="65" text-anchor="middle">21</text>
<line x1="1842" y1="4596.8" x2="1842" y2="4619.8" stroke="#000" stroke-width="3.8"/>
<text x="1843" y="4704.8" font-size="65" text-anchor="middle">41</text>
<text transform="translate(122.5,3879.5) rotate(-90)" font-size="78.3" text-anchor="middle">Pheophytin <tspan font-style="italic">a</tspan> (mg kg<tspan font-size="52.5" dy="-39">-1</tspan><tspan dy="39">WF</tspan><tspan font-size="52.5" dy="-39">-1</tspan><tspan dy="39">)</tspan></text>
<text x="642.9" y="3835.8" font-size="56" text-anchor="middle">ns</text>
<text x="939.5" y="4070.8" font-size="56" text-anchor="middle">a</text>
<text x="993" y="4062.05" font-size="56" text-anchor="middle">a</text>
<text x="1042" y="3715.3" font-size="56" text-anchor="middle">c</text>
<text x="1095.75" y="3821.55" font-size="56" text-anchor="middle">c</text>
<text x="1143.75" y="3953.8" font-size="56" text-anchor="middle">b</text>
<text x="1490.9" y="3791.3" font-size="56" text-anchor="middle">ns</text>
<text x="1888.4" y="3839.55" font-size="56" text-anchor="middle">ns</text>
<text x="302" y="3290" font-size="103" text-anchor="start" font-weight="bold" stroke="none">C</text>
<text x="1216" y="3280.8" font-size="90" text-anchor="middle" font-weight="bold" stroke="none">&#8216;Hayward&#8217;</text>
<rect x="1584.05" y="3207.05" width="152.6" height="40.9" fill="#000000" stroke="#000" stroke-width="4.1"/>
<text x="1772.5" y="3250.5" font-size="67" text-anchor="start">0 &#176;C</text>
<rect x="1584.05" y="3283.05" width="152.6" height="40.4" fill="#ffffff" stroke="#000" stroke-width="4.1"/>
<text x="1772.5" y="3326" font-size="67" text-anchor="start">5 &#176;C</text>
<rect x="1584.05" y="3358.55" width="152.6" height="40.4" fill="#606060" stroke="#000" stroke-width="4.1"/>
<text x="1772.5" y="3401.5" font-size="67" text-anchor="start">10 &#176;C</text>
<rect x="1584.05" y="3434.05" width="152.6" height="40.4" fill="#e0e0e0" stroke="#000" stroke-width="4.1"/>
<text x="1772.5" y="3477" font-size="67" text-anchor="start">15 &#176;C</text>
<g transform="translate(1584.05,3509.05)"><rect x="0" y="0" width="152.6" height="40.9" fill="#fff"/><rect x="0" y="0" width="152.6" height="40.9" fill="url(#hatch)" stroke="#000" stroke-width="4.1"/></g>
<text x="1772.5" y="3552.5" font-size="67" text-anchor="start">7 d at 30 &#176;C</text>
<text x="1772.5" y="3627.5" font-size="67" text-anchor="start">+ 34 d at 15 &#176;C</text>
<text x="1245" y="4803" font-size="78.3" text-anchor="middle">Storage time (days)</text>
</svg></body></html>
